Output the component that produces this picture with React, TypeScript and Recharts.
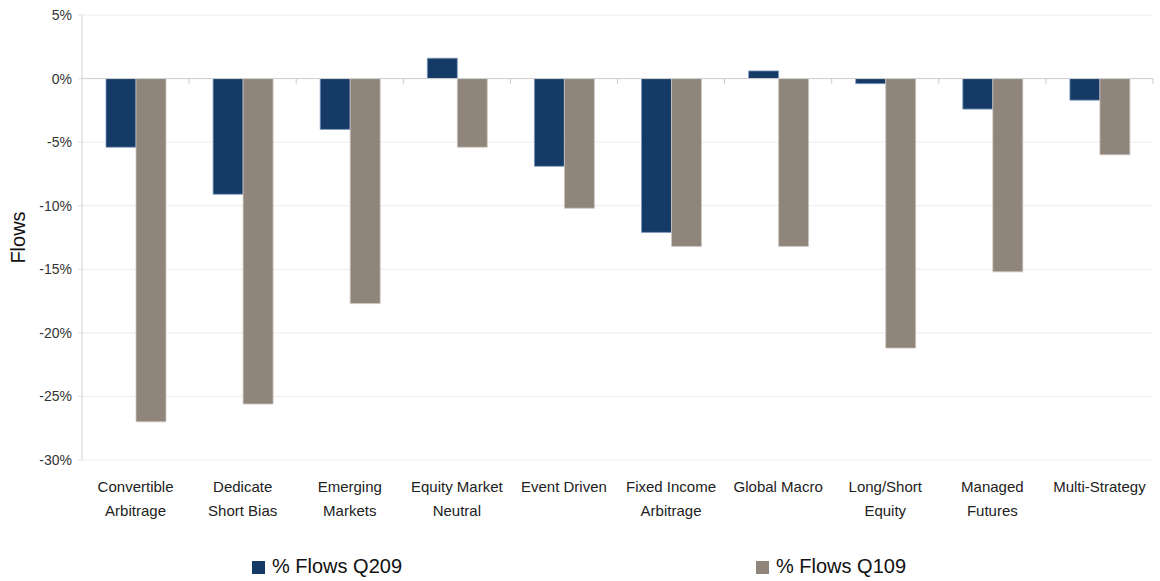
import React from "react"
import { BarChart, Bar, XAxis, YAxis, CartesianGrid, ReferenceLine } from "recharts"

const categories = [
  "Convertible\nArbitrage",
  "Dedicate\nShort Bias",
  "Emerging\nMarkets",
  "Equity Market\nNeutral",
  "Event Driven",
  "Fixed Income\nArbitrage",
  "Global Macro",
  "Long/Short\nEquity",
  "Managed\nFutures",
  "Multi-Strategy",
]
const flowsQ209 = [-5.4, -9.1, -4.0, 1.6, -6.9, -12.1, 0.6, -0.4, -2.4, -1.7]
const flowsQ109 = [-27.0, -25.6, -17.7, -5.4, -10.2, -13.2, -13.2, -21.2, -15.2, -6.0]
const yTicks = [-30, -25, -20, -15, -10, -5, 0, 5]

const W = 1160
const H = 581
const M = { top: 15, right: 7, bottom: 61, left: 0 }
const Y_W = 82
const X_H = 60
const plotW = W - M.left - M.right - Y_W
const plotH = H - M.top - M.bottom - X_H
const bandW = plotW / categories.length
const zeroY = M.top + (plotH * 5) / 35

const data = categories.map((c, i) => ({ name: c, q209: flowsQ209[i], q109: flowsQ109[i] }))

const FONT = "'Liberation Sans', Arial, sans-serif"

function CategoryTick({ x, y, payload }: any) {
  const lines = String(payload.value).split("\n")
  return (
    <g>
      <line x1={x + bandW / 2} x2={x + bandW / 2} y1={zeroY} y2={zeroY + 5} stroke="#c8c8c8" />
      <text x={x} y={y + 24} textAnchor="middle" fontSize={15} fill="#222" fontFamily={FONT}>
        {lines.map((l, i) => (
          <tspan key={i} x={x} dy={i === 0 ? 0 : 24}>
            {l}
          </tspan>
        ))}
      </text>
    </g>
  )
}

function FlowsLabel({ viewBox }: any) {
  const cx = 18
  const cy = viewBox ? viewBox.y + viewBox.height / 2 : 237
  return (
    <text x={cx} y={cy} transform={`rotate(-90 ${cx} ${cy})`} textAnchor="middle" dominantBaseline="central" fontSize={20} fill="#111" fontFamily={FONT}>
      Flows
    </text>
  )
}

export default function App() {
  return (
    <div style={{ position: "absolute", left: 0, top: 0, width: W, height: H, background: "#fff", fontFamily: FONT }}>
      <BarChart width={W} height={H} data={data} margin={M} barGap={0} barSize={30}>
        <CartesianGrid vertical={false} stroke="#ececec" />
        <XAxis
          dataKey="name"
          height={X_H}
          axisLine={false}
          tickLine={false}
          interval={0}
          tick={<CategoryTick />}
        />
        <YAxis
          width={Y_W}
          domain={[-30, 5]}
          ticks={yTicks}
          tickFormatter={(v: number) => `${v}%`}
          axisLine={{ stroke: "#d0d0d0" }}
          tickLine={{ stroke: "#e0e0e0" }}
          tickSize={4}
          tickMargin={6}
          tick={{ fontSize: 14, fill: "#333", fontFamily: FONT }}
          label={<FlowsLabel />}
        />
        <ReferenceLine y={0} stroke="#cfcfcf" />
        <Bar dataKey="q209" fill="#163a66" stroke="#7f9cc0" strokeWidth={0.8} isAnimationActive={false} />
        <Bar dataKey="q109" fill="#8f857b" stroke="#cfc8c0" strokeWidth={0.8} isAnimationActive={false} />
      </BarChart>
      <div style={{ position: "absolute", left: 252, top: 555, display: "flex", alignItems: "flex-end", fontSize: 20, lineHeight: "23px", color: "#111" }}>
        <span style={{ width: 13, height: 13, background: "#163a66", marginRight: 7, marginBottom: 4, display: "inline-block" }} />
        % Flows Q209
      </div>
      <div style={{ position: "absolute", left: 756, top: 555, display: "flex", alignItems: "flex-end", fontSize: 20, lineHeight: "23px", color: "#111" }}>
        <span style={{ width: 13, height: 13, background: "#8f857b", marginRight: 7, marginBottom: 4, display: "inline-block" }} />
        % Flows Q109
      </div>
    </div>
  )
}
